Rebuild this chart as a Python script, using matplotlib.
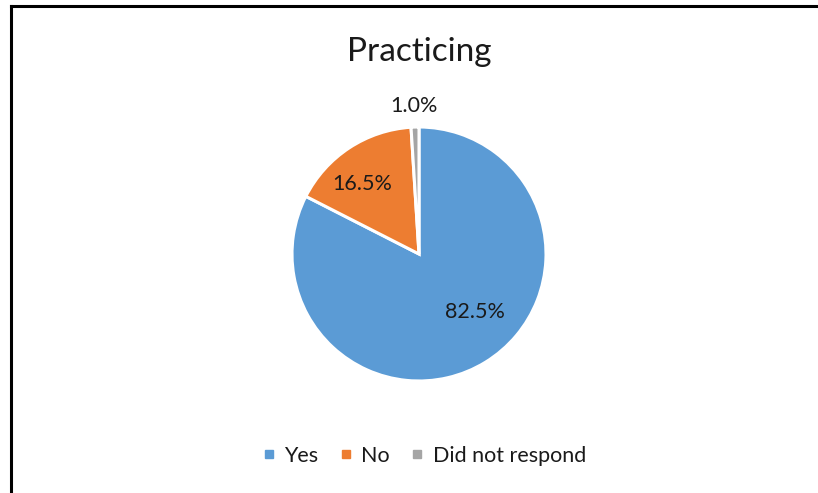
import matplotlib.pyplot as plt
from matplotlib.lines import Line2D

categories = ["Yes", "No", "Did not respond"]
shares = [82.5, 16.5, 1.0]
colors = ["#5B9BD5", "#ED7D31", "#A5A5A5"]
label_pos = [(0.44, -0.46), (-0.45, 0.55), (-0.04, 1.165)]

plt.rcParams['font.family'] = ['Lato', 'DejaVu Sans']
text_color = "#1a1a1a"

fig = plt.figure(figsize=(8.18, 4.93), dpi=100)
W, H = 818, 493
cx, cy, r = 419, 254, 127
ax = fig.add_axes([(cx - r) / W, 1 - (cy + r) / H, 2 * r / W, 2 * r / H])
ax.pie(shares, colors=colors, startangle=90, counterclock=False,
       wedgeprops=dict(edgecolor="white", linewidth=2.2), radius=1.0)
ax.set_xlim(-1, 1)
ax.set_ylim(-1, 1)
ax.set_aspect('equal')
ax.axis('off')

for v, (x, y) in zip(shares, label_pos):
    ax.text(x, y, f"{v:.1f}%", ha="center", va="center", fontsize=15.5, color=text_color)

fig.text(cx / W, 1 - 52 / H, "Practicing", ha="center", va="center", fontsize=24, color=text_color)

handles = [Line2D([], [], marker="s", linestyle="none", markersize=6,
                  markerfacecolor=c, markeredgecolor=c) for c in colors]
fig.legend(handles, categories, loc="center", bbox_to_anchor=(424 / W, 1 - 456 / H),
           ncol=3, frameon=False, fontsize=15.5, handlelength=0.6, handletextpad=0.4,
           columnspacing=1.0, labelcolor=text_color)

# frame border on left and top
fig.add_artist(Line2D([10.5 / W, 10.5 / W], [0, 1 - 5.5 / H], color="black", linewidth=2.2,
                      transform=fig.transFigure))
fig.add_artist(Line2D([10.5 / W, 1], [1 - 5.5 / H, 1 - 5.5 / H], color="black", linewidth=2.2,
                      transform=fig.transFigure))

fig.savefig("out.png", dpi=100)
